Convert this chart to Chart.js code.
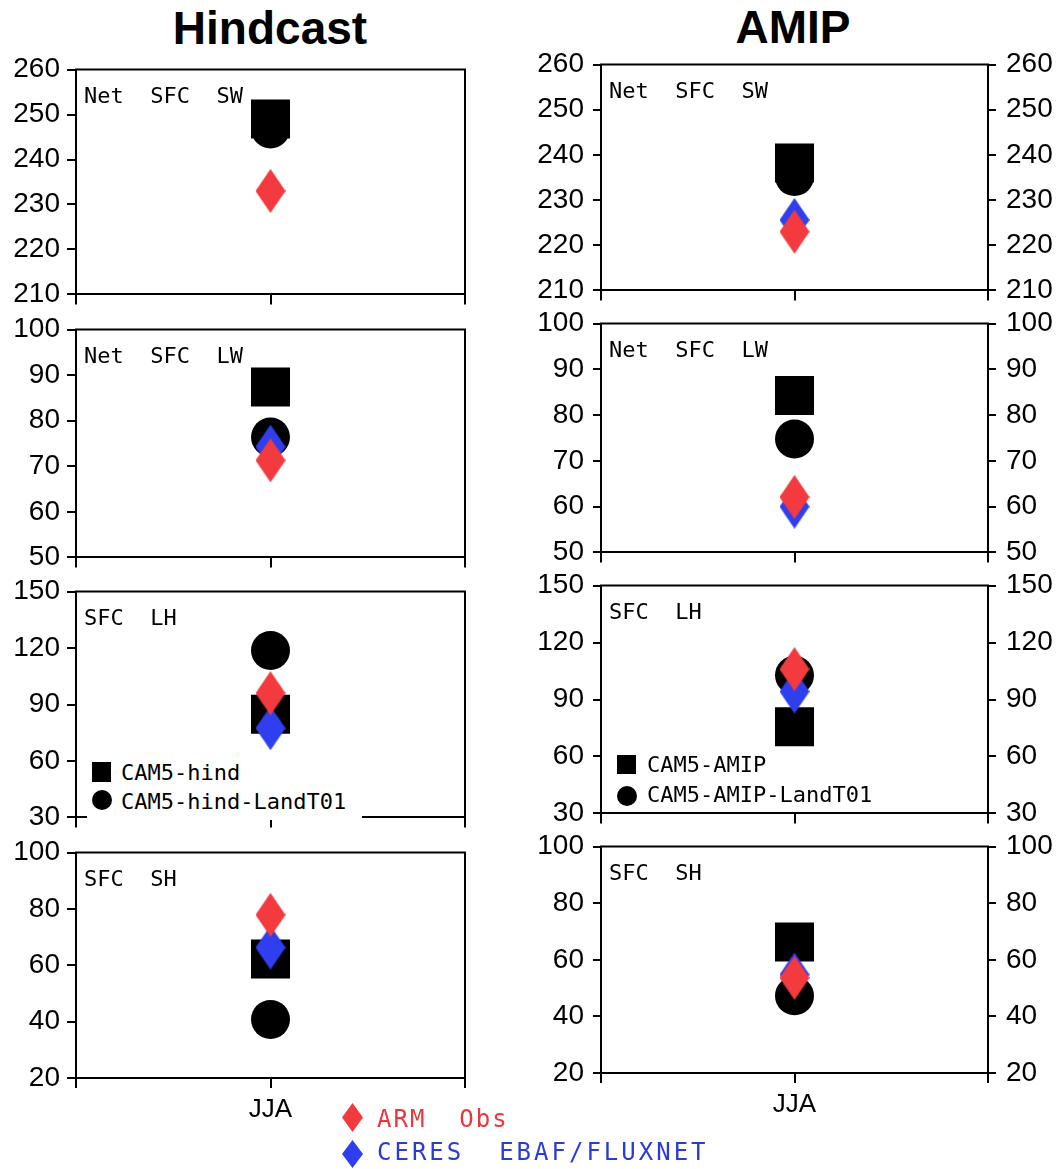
<!DOCTYPE html>
<html>
<head>
<meta charset="utf-8">
<script src="https://cdn.jsdelivr.net/npm/chart.js@4.4.1/dist/chart.umd.min.js"></script>
<style>
  body { margin: 0; background: #fff; width: 1063px; height: 1169px; position: relative; overflow: hidden; }
  .cv { position: absolute; }
  .title { position: absolute; width: 300px; text-align: center; font: bold 46px/1 "Liberation Sans", Arial, sans-serif; color: #000; }
  .txt { position: absolute; white-space: pre; font: 22px/1 "DejaVu Sans Mono", monospace; color: #000; z-index: 5; }
  .big { font-size: 24px; letter-spacing: 3px; }
  .mk { position: absolute; background: #000; z-index: 5; }
  .dia { clip-path: polygon(50% 0, 100% 50%, 50% 100%, 0 50%); }
  .box { position: absolute; background: #fff; z-index: 4; }
</style>
</head>
<body>
<div class="title" style="left:120px;top:5px">Hindcast</div>
<div class="title" style="left:643px;top:4px">AMIP</div>

<!-- inset legend, hindcast LH panel -->
<div class="box" style="left:87px;top:757px;width:275px;height:63px"></div>
<div class="mk" style="left:92px;top:762px;width:19px;height:20px"></div>
<div class="txt" style="left:121px;top:762px">CAM5-hind</div>
<div class="mk" style="left:92px;top:790px;width:20px;height:20px;border-radius:50%"></div>
<div class="txt" style="left:121px;top:791px">CAM5-hind-LandT01</div>

<!-- inset legend, AMIP LH panel -->
<div class="mk" style="left:617px;top:755px;width:19px;height:19px"></div>
<div class="txt" style="left:647px;top:754px">CAM5-AMIP</div>
<div class="mk" style="left:617px;top:786px;width:20px;height:20px;border-radius:50%"></div>
<div class="txt" style="left:647px;top:784px">CAM5-AMIP-LandT01</div>

<!-- observation legend -->
<div class="mk dia" style="left:342px;top:1103px;width:21px;height:29px;background:#f23a3f"></div>
<div class="txt big" style="left:377px;top:1107px;color:#e8383d;letter-spacing:2px">ARM  Obs</div>
<div class="mk dia" style="left:342px;top:1140px;width:21px;height:28px;background:#2f3ff0"></div>
<div class="txt big" style="left:377px;top:1140px;color:#2a3bd6">CERES  EBAF/FLUXNET</div>

<script>
const season = ["JJA"];
const panelNames = ["Net  SFC  SW", "Net  SFC  LW", "SFC  LH", "SFC  SH"];
const yMins = [210, 50, 30, 20];
const yMaxs = [260, 100, 150, 100];
const ySteps = [10, 10, 30, 20];

// Hindcast
const hindCAM5 = [249, 87.4, 84.8, 62.2];
const hindLandT01 = [246.8, 76.4, 118.7, 40.8];
const hindARM = [233, 71.3, 96, 77.9];
const hindCERES = [null, 74.3, 77.4, 66.3];

// AMIP
const amipCAM5 = [238.2, 84.3, 75.6, 66.3];
const amipLandT01 = [235.2, 74.8, 102.8, 47.3];
const amipARM = [223, 62.1, 106, 53.6];
const amipCERES = [225.6, 60, 94.2, 54.8];

const RED = "#f23a3f";
const BLUE = "#2f3ff0";

Chart.defaults.font.family = '"Liberation Sans", Arial, sans-serif';
Chart.defaults.color = "#000";

function diamond(color) {
  const c = document.createElement("canvas");
  c.width = 30;
  c.height = 44;
  const ctx = c.getContext("2d");
  ctx.fillStyle = color;
  ctx.beginPath();
  ctx.moveTo(15, 0);
  ctx.lineTo(30, 22);
  ctx.lineTo(15, 44);
  ctx.lineTo(0, 22);
  ctx.closePath();
  ctx.fill();
  return c;
}
const redDiamond = diamond(RED);
const blueDiamond = diamond(BLUE);

// frame top edge + panel name
const panelDecor = {
  id: "panelDecor",
  afterDraw(chart, args, opts) {
    const { ctx, chartArea } = chart;
    ctx.save();
    ctx.strokeStyle = "#000";
    ctx.lineWidth = 2;
    ctx.beginPath();
    ctx.moveTo(chartArea.left - 1, chartArea.top);
    ctx.lineTo(chartArea.right + 1, chartArea.top);
    ctx.stroke();
    ctx.fillStyle = "#000";
    ctx.font = '22px "DejaVu Sans Mono", monospace';
    ctx.textBaseline = "alphabetic";
    ctx.fillText(opts.label, chartArea.left + 8, chartArea.top + 33);
    ctx.restore();
  },
};

const columns = [
  {
    left: 0, width: 530, axisL: 76, axisR: 65, tick: 9, pad: 7,
    tops: [70, 330, 592, 853], bottoms: [295, 558, 818, 1079],
    rightLabels: false,
    cam5: hindCAM5, land: hindLandT01, arm: hindARM, ceres: hindCERES,
  },
  {
    left: 530, width: 533, axisL: 71, axisR: 75, tick: 8, pad: 9,
    tops: [65, 324, 586, 847], bottoms: [291, 553, 814, 1074],
    rightLabels: true,
    cam5: amipCAM5, land: amipLandT01, arm: amipARM, ceres: amipCERES,
  },
];

function makeConfig(col, i) {
  const isBottom = i === 3;
  const xAxisH = isBottom ? 50 : 20;
  const pt = (v) => [{ x: 1, y: v }];
  return {
    type: "scatter",
    data: {
      datasets: [
        { data: pt(col.arm[i]), pointStyle: redDiamond, pointRadius: 15, order: 0 },
        { data: pt(col.ceres[i]), pointStyle: blueDiamond, pointRadius: 15, order: 1 },
        { data: pt(col.land[i]), pointStyle: "circle", pointRadius: 19.5, backgroundColor: "#000", borderWidth: 0, order: 2 },
        { data: pt(col.cam5[i]), pointStyle: "rect", pointRadius: 27.6, backgroundColor: "#000", borderWidth: 0, order: 3 },
      ],
    },
    options: {
      responsive: false,
      maintainAspectRatio: false,
      animation: false,
      events: [],
      layout: { padding: { top: 20, left: 0, right: 0, bottom: 0 } },
      plugins: {
        legend: { display: false },
        tooltip: { enabled: false },
        panelDecor: { label: panelNames[i] },
      },
      scales: {
        x: {
          type: "linear",
          min: 0,
          max: 2,
          ticks: {
            stepSize: 1,
            padding: 6,
            font: { size: 26 },
            callback: (v) => (v === 1 && isBottom ? season[0] : ""),
          },
          grid: { drawOnChartArea: false, tickLength: 10, color: "#000", lineWidth: 2 },
          border: { display: true, color: "#000", width: 2 },
          afterFit: (s) => { s.height = xAxisH; },
        },
        y: {
          min: yMins[i],
          max: yMaxs[i],
          position: "left",
          ticks: { stepSize: ySteps[i], padding: col.pad, font: { size: 28 } },
          grid: { drawOnChartArea: false, tickLength: col.tick, color: "#000", lineWidth: 2 },
          border: { display: true, color: "#000", width: 2 },
          afterFit: (s) => { s.width = col.axisL; },
        },
        y2: {
          min: yMins[i],
          max: yMaxs[i],
          position: "right",
          ticks: { display: col.rightLabels, stepSize: ySteps[i], padding: 10, font: { size: 28 } },
          grid: { display: col.rightLabels, drawOnChartArea: false, tickLength: 8, color: "#000", lineWidth: 2 },
          border: { display: true, color: "#000", width: 2 },
          afterFit: (s) => { s.width = col.axisR; },
        },
      },
    },
    plugins: [panelDecor],
  };
}

function addCanvas(col, top, height) {
  const canvas = document.createElement("canvas");
  canvas.className = "cv";
  canvas.width = col.width;
  canvas.height = height;
  canvas.style.left = col.left + "px";
  canvas.style.top = top + "px";
  document.body.appendChild(canvas);
  return canvas;
}

columns.forEach((col) => {
  for (let i = 0; i < 4; i++) {
    const plotH = col.bottoms[i] - col.tops[i];
    // first pass: measure how much room the axes take above/below the plot area
    const probe = addCanvas(col, 0, plotH + 100);
    const tmp = new Chart(probe, makeConfig(col, i));
    const offTop = tmp.chartArea.top;
    const offBottom = tmp.height - tmp.chartArea.bottom;
    const offLeft = tmp.chartArea.left;
    tmp.destroy();
    probe.remove();

    const canvas = addCanvas(col, col.tops[i] - offTop, offTop + plotH + offBottom);
    canvas.style.left = col.left + (col.axisL - offLeft) + "px";
    new Chart(canvas, makeConfig(col, i));
  }
});
</script>
</body>
</html>
